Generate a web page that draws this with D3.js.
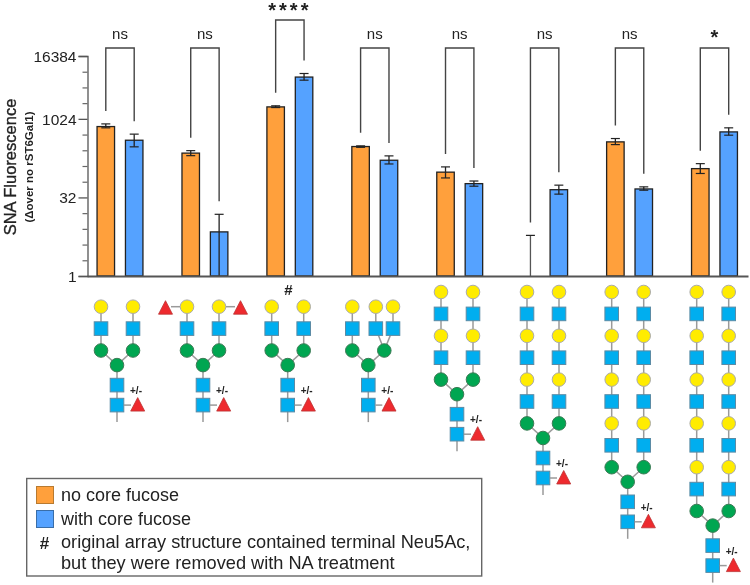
<!DOCTYPE html>
<html><head><meta charset="utf-8">
<script src="https://cdn.jsdelivr.net/npm/d3@7"></script>
<style>
html,body{margin:0;padding:0;background:#fff}
svg{display:block;filter:blur(0.5px)}
text{font-family:"Liberation Sans",Arial,sans-serif;fill:#222}
</style></head><body>
<svg id="c" width="750" height="585"></svg>
<script>
const groups = ["G1","G2","G3","G4","G5","G6","G7","G8"];
const noFuc     = [729, 226, 1736, 302, 97.6, 1, 371, 114];
const noFucHi   = [820, 252, 1820, 311, 123, 6.0, 430, 142];
const noFucLo   = [689, 202, 1686, 292, 75.6, 1, 329, 92];
const withFuc   = [399, 7.0, 6470, 165, 58.8, 45, 46.5, 576];
const withFucHi = [522, 15.2, 7570, 200, 66, 55, 51, 689];
const withFucLo = [298, 1, 5640, 140, 52.5, 37, 44, 498];
const signif    = ["ns","ns","****","ns","ns","ns","ns","*"];
const majorTicks = [1, 32, 1024, 16384];
const minorTicks = [2,4,8,16,64,128,256,512,2048,4096,8192];
const glycanRepeats = [1,1,1,1,2,3,4,5];
const legendItems = ["no core fucose","with core fucose"];
const noteLines = ["original array structure contained terminal Neu5Ac,","but they were removed with NA treatment"];

const ORANGE="#FFA03C", BLUE="#55A2FF", DARK="#222";
const svg=d3.select("#c");
const y=d3.scaleLog().base(2).domain([1,16384]).range([276,56]);
const x=d3.scalePoint().domain(groups).range([120,714.5]);
const off=14.2, bw=17.5;

// bars
const series=[
 {vals:noFuc,hi:noFucHi,lo:noFucLo,dx:-off,col:ORANGE},
 {vals:withFuc,hi:withFucHi,lo:withFucLo,dx:off,col:BLUE}];
series.forEach(s=>{
  groups.forEach((g,i)=>{
    const cx=x(g)+s.dx;
    if(s.vals[i]>1) svg.append("rect").attr("x",cx-bw/2).attr("y",y(s.vals[i])).attr("width",bw).attr("height",y(1)-y(s.vals[i]))
      .attr("fill",s.col).attr("stroke",DARK).attr("stroke-width",1.3);
    svg.append("line").attr("x1",cx).attr("x2",cx).attr("y1",y(s.hi[i])).attr("y2",y(s.lo[i])).attr("stroke",s.vals[i]>1?DARK:"#555").attr("stroke-width",1.3);
    [s.hi[i],s.lo[i]].forEach(v=>{ if(v>1) svg.append("line").attr("x1",cx-4.5).attr("x2",cx+4.5).attr("y1",y(v)).attr("y2",y(v)).attr("stroke",DARK).attr("stroke-width",1.2);});
  });
});

// axes
const gy=svg.append("g").attr("transform","translate(87.5,0)");
gy.call(d3.axisLeft(y).tickValues(majorTicks).tickFormat(d3.format("d")).tickSize(9).tickPadding(2));
gy.selectAll("path,line").attr("stroke","#555").attr("stroke-width",1.3);
gy.selectAll("text").style("font-size","15.5px").attr("fill","#333").attr("dy","0.34em");
const gm=svg.append("g").attr("transform","translate(87.5,0)");
gm.call(d3.axisLeft(y).tickValues(minorTicks).tickFormat("").tickSize(5));
gm.select("path").remove();
gm.selectAll("line").attr("stroke","#666").attr("stroke-width",1.2);
const gx=svg.append("g").attr("transform","translate(0,"+y(1)+")");
gx.call(d3.axisBottom(d3.scaleLinear().domain([0,1]).range([87,748])).tickValues([]).tickSize(0));
gx.select("path").attr("stroke","#555").attr("stroke-width",2);

// brackets
groups.forEach((g,i)=>{
  const xl=x(g)-off, xr=x(g)+off, gap=13;
  const top= signif[i]==="****"?20:48;
  svg.append("path").attr("fill","none").attr("stroke","#444").attr("stroke-width",1.4)
    .attr("d",d3.line()([[xl,y(noFucHi[i])-gap],[xl,top],[xr,top],[xr,y(withFucHi[i])-gap]]));
  const t=svg.append("text").attr("x",(xl+xr)/2).attr("text-anchor","middle").text(signif[i]);
  if(signif[i]==="ns") t.attr("y",top-9.5).style("font-size","15px");
  else if(signif[i]==="*") t.attr("y",44).style("font-size","20px").style("font-weight","bold");
  else t.attr("y",17).style("font-size","20px").style("font-weight","bold").style("letter-spacing","3px");
});

// y title
svg.append("text").attr("transform","translate(16,167) rotate(-90)").attr("text-anchor","middle")
  .style("font-size","16.5px").style("stroke","#222").style("stroke-width","0.35px").text("SNA Fluorescence");
svg.append("text").attr("transform","translate(33,167) rotate(-90)").attr("text-anchor","middle")
  .style("font-size","11.5px").style("font-weight","bold").text("(Δover no rST6Gal1)");

// glycans
const glycanX=[117,203,287.7,368.3,457,543,627.7,712.7];
const step=21.9;
const GREY="#9a9a9a";
const link=(a,b,c,d)=>svg.append("line").attr("x1",a).attr("y1",b).attr("x2",c).attr("y2",d).attr("stroke",GREY).attr("stroke-width",1.5);
const circ=(cx,cy,f)=>svg.append("circle").attr("cx",cx).attr("cy",cy).attr("r",6.8).attr("fill",f).attr("stroke",f==="#00A651"?"#3c7a55":"#aaa").attr("stroke-width",1);
const sq=(cx,cy)=>svg.append("rect").attr("x",cx-6.8).attr("y",cy-6.8).attr("width",13.6).attr("height",13.6).attr("fill","#00AEEF").attr("stroke","#5b8ba5").attr("stroke-width",1);
const tri=(cx,cy)=>svg.append("path").attr("d",d3.line()([[cx,cy-7.5],[cx+7,cy+6],[cx-7,cy+6]])+"Z").attr("fill","#EE2A2E").attr("stroke","#b33").attr("stroke-width",.8);
glycanRepeats.forEach((n,i)=>{
  const c=glycanX[i];
  const top=n===1?306.7:292;
  const greenY=top+2*n*step, coreY=greenY+14.6, s1=coreY+20, s2=s1+20;
  const isG4=i===3;
  const arms=[c-16,c+16];
  link(c,coreY,c,s2+17);
  link(c,coreY,arms[0],greenY); link(c,coreY,arms[1],greenY);
  const chains=isG4?[c-16,c+7.5,c+24.7]:arms;
  chains.forEach((ax,k)=>{
    const g=k===0?arms[0]:arms[1];
    link(ax,top,ax,greenY-step);
    link(ax,greenY-step,g,greenY);
    d3.range(n).forEach(r=>{
      circ(ax,top+2*r*step,"#FFEC00");
      sq(ax,top+(2*r+1)*step);
    });
  });
  arms.forEach(ax=>circ(ax,greenY,"#00A651"));
  circ(c,coreY,"#00A651");
  sq(c,s1); sq(c,s2);
  link(c+7,s2,c+14,s2);
  tri(c+20.7,s2);
  svg.append("text").attr("x",c+19).attr("y",s1+9).attr("text-anchor","middle").style("font-size","10px").style("font-weight","bold").text("+/-");
  if(i===1){
    [[arms[0],-1],[arms[1],1]].forEach(([ax,dir])=>{
      link(ax+dir*7,top,ax+dir*16,top);
      tri(ax+dir*21.5,top+1.5);
    });
  }
});
svg.append("text").attr("x",288.5).attr("y",295).attr("text-anchor","middle").style("font-size","15px").style("font-weight","bold").text("#");

// legend
svg.append("rect").attr("x",26.7).attr("y",478.5).attr("width",455).attr("height",97.5).attr("fill","none").attr("stroke","#666").attr("stroke-width",1.4);
legendItems.forEach((t,i)=>{
  svg.append("rect").attr("x",36.5).attr("y",486.5+i*24).attr("width",17).attr("height",17).attr("fill",i?BLUE:ORANGE).attr("stroke",i?"#3a6ea8":"#b87a30").attr("stroke-width",1);
  svg.append("text").attr("x",61).attr("y",500.5+i*24.2).style("font-size","18px").text(t);
});
svg.append("text").attr("x",44.5).attr("y",549).attr("text-anchor","middle").style("font-size","17px").style("font-weight","bold").text("#");
noteLines.forEach((t,i)=>svg.append("text").attr("x",61).attr("y",548+i*21).style("font-size","18.2px").text(t));
</script>
</body></html>
